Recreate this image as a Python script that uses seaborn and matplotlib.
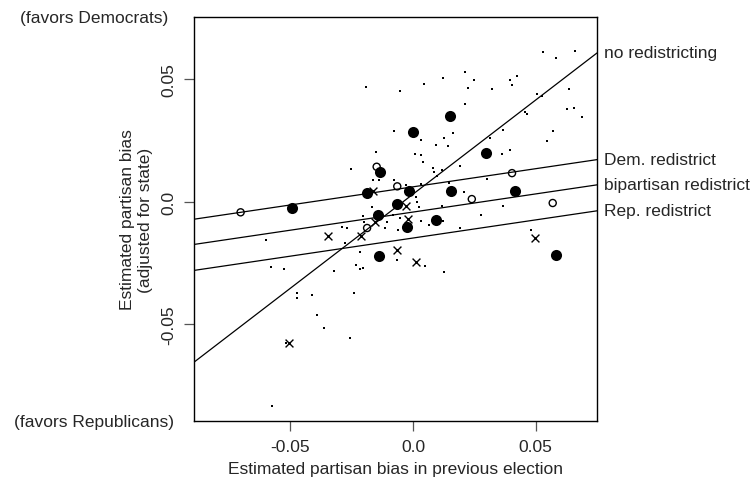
import numpy as np
import pandas as pd
import seaborn as sns
import matplotlib
matplotlib.use("Agg")
import matplotlib.pyplot as plt

# elections with no redistricting (small dots)
none_x = [0.0529, 0.0662, 0.0584, -0.0053, 0.0046, 0.0124, 0.0211, 0.0223, 0.0250, 0.0324,
          0.0396, 0.0423, 0.0405, 0.0506, 0.0527, 0.0636, 0.0629, 0.0657, 0.0690, 0.0456,
          0.0467, 0.0212, -0.0078, 0.0031, 0.0162, 0.0127, 0.0093, 0.0144, 0.0366, 0.0314,
          0.0573, 0.0547, 0.0364, 0.0396, 0.0009, 0.0033, 0.0041, 0.0192, 0.0080, 0.0117,
          0.0086, 0.0099, 0.0301, 0.0031, 0.0148, -0.0029, 0.0208, 0.0015, 0.0026, 0.0118,
          0.0369, -0.0192, -0.0151, -0.0252, -0.0164, -0.0138, -0.0078, 0.0012, -0.0203, -0.0080,
          -0.0053, 0.0031, 0.0124, -0.0105, -0.0060, 0.0067, -0.0200, -0.0114, -0.0288, -0.0267,
          -0.0278, 0.0192, -0.0218, -0.0065, 0.0051, -0.0233, -0.0216, -0.0205, 0.0127, 0.0278,
          0.0480, -0.0166, -0.0600, -0.0577, -0.0525, -0.0321, -0.0241, -0.0475, -0.0475, -0.0413,
          -0.0393, -0.0362, -0.0257, -0.0518, -0.0576]
none_y = [0.0609, 0.0616, 0.0586, 0.0450, 0.0481, 0.0505, 0.0527, 0.0464, 0.0497, 0.0458,
          0.0495, 0.0513, 0.0477, 0.0440, 0.0432, 0.0458, 0.0376, 0.0380, 0.0346, 0.0365,
          0.0358, 0.0399, 0.0289, 0.0252, 0.0281, 0.0258, 0.0232, 0.0228, 0.0293, 0.0258,
          0.0289, 0.0248, 0.0194, 0.0211, 0.0193, 0.0191, 0.0161, 0.0144, 0.0136, 0.0130,
          0.0119, 0.0103, 0.0092, 0.0071, 0.0074, 0.0067, 0.0040, -0.0001, -0.0021, -0.0020,
          -0.0017, 0.0469, 0.0203, 0.0134, 0.0089, 0.0089, 0.0089, 0.0017, -0.0058, -0.0054,
          -0.0066, -0.0078, -0.0078, -0.0082, -0.0116, -0.0097, -0.0085, -0.0108, -0.0105, -0.0108,
          -0.0169, -0.0108, -0.0206, -0.0237, -0.0262, -0.0259, -0.0276, -0.0270, -0.0287, -0.0054,
          -0.0115, -0.0024, -0.0156, -0.0266, -0.0276, -0.0282, -0.0373, -0.0373, -0.0395, -0.0382,
          -0.0462, -0.0515, -0.0556, -0.0578, -0.0833]

# bipartisan redistricting (filled circles)
bip_x = [-0.0493, -0.0189, -0.0135, -0.0016, -0.0001, 0.0151, 0.0155, 0.0297, 0.0415, 0.0582,
         -0.0064, -0.0142, -0.0026, 0.0094, -0.0138]
bip_y = [-0.0027, 0.0033, 0.0122, 0.0044, 0.0282, 0.0350, 0.0044, 0.0198, 0.0044, -0.0217,
         -0.0010, -0.0054, -0.0103, -0.0074, -0.0221]

# Democratic redistricting (o)
dem_x = [-0.0703, -0.0148, -0.0064, 0.0240, 0.0404, 0.0570, -0.0187]
dem_y = [-0.0044, 0.0142, 0.0062, 0.0010, 0.0116, -0.0006, -0.0108]

# Republican redistricting (x)
rep_x = [-0.0164, -0.0029, -0.0019, -0.0155, -0.0348, -0.0213, -0.0064, 0.0012, 0.0498, -0.0505]
rep_y = [0.0044, -0.0020, -0.0071, -0.0082, -0.0140, -0.0142, -0.0198, -0.0248, -0.0150, -0.0578]

# fitted lines
line_names = ["no redistricting", "Dem. redistrict", "bipartisan redistrict", "Rep. redistrict"]
line_intercepts = [0.0030, 0.0060, -0.0043, -0.0149]
line_slopes = [0.768, 0.148, 0.148, 0.148]

sns.set_style("white")
plt.rcParams["font.family"] = ["Liberation Sans", "DejaVu Sans"]

fig = plt.figure(figsize=(7.52, 4.89), dpi=100)
ax = fig.add_axes([0.258, 0.137, 0.536, 0.826])

xmin, xmax = -0.0893, 0.0751
ax.set_xlim(xmin, xmax)
ax.set_ylim(-0.0896, 0.0753)

df_none = pd.DataFrame({"x": none_x, "y": none_y})
df_bip = pd.DataFrame({"x": bip_x, "y": bip_y})
df_dem = pd.DataFrame({"x": dem_x, "y": dem_y})
df_rep = pd.DataFrame({"x": rep_x, "y": rep_y})

sns.scatterplot(data=df_none, x="x", y="y", ax=ax, marker="s", s=3.5, color="black",
                linewidth=0, legend=False)
sns.scatterplot(data=df_bip, x="x", y="y", ax=ax, marker="o", s=64, color="black",
                linewidth=0, legend=False)
sns.scatterplot(data=df_dem, x="x", y="y", ax=ax, marker="o", s=26, facecolor="none",
                edgecolor="black", linewidth=1.0, legend=False)
sns.scatterplot(data=df_rep, x="x", y="y", ax=ax, marker="x", s=32, color="black",
                linewidth=1.0, legend=False)

for name, b, m in zip(line_names, line_intercepts, line_slopes):
    ax.axline((0, b), slope=m, color="black", linewidth=0.9)
    ax.text(1.018, b + m * xmax, name, transform=ax.get_yaxis_transform(),
            ha="left", va="center", fontsize=12.5, clip_on=False)

fs = 12.5
ax.set_xticks([-0.05, 0.0, 0.05])
ax.set_xticklabels(["-0.05", "0.0", "0.05"])
ax.set_yticks([-0.05, 0.0, 0.05])
ax.set_yticklabels(["-0.05", "0.0", "0.05"], rotation=90, va="center")
ax.tick_params(axis="both", direction="out", length=7, width=0.9, color="#555555",
               labelsize=fs, pad=6, bottom=True, left=True)
for sp in ax.spines.values():
    sp.set_color("black")
    sp.set_linewidth(1.0)

ax.set_xlabel("Estimated partisan bias in previous election", fontsize=fs, labelpad=5)
ax.set_ylabel("Estimated partisan bias\n(adjusted for state)", fontsize=fs, labelpad=6,
              linespacing=1.25)

ax.text(-0.248, 1.0, "(favors Democrats)", transform=ax.transAxes, ha="center",
        va="center", fontsize=fs)
ax.text(-0.248, 0.0, "(favors Republicans)", transform=ax.transAxes, ha="center",
        va="center", fontsize=fs)

fig.savefig("out.png", dpi=100)
